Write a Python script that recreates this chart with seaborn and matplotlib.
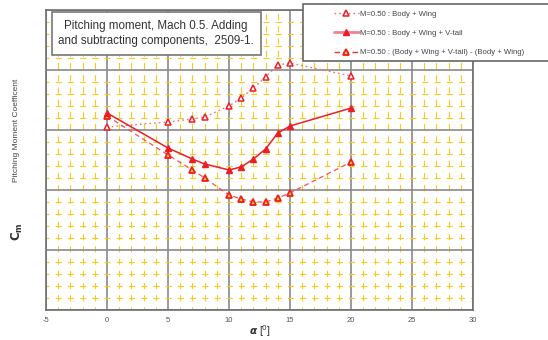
import numpy as np
import pandas as pd
import seaborn as sns
import matplotlib
matplotlib.use("Agg")
import matplotlib.pyplot as plt
from matplotlib.lines import Line2D
from matplotlib.patches import Rectangle
from matplotlib.ticker import MultipleLocator

# Angle of attack [deg]
alpha = [0, 5, 7, 8, 10, 11, 12, 13, 14, 15, 20]

# Pitching moment coefficient, M = 0.50
cm_body_wing = [0.0025, 0.0067, 0.0092, 0.0108, 0.0200, 0.0267, 0.0350, 0.0442, 0.0542, 0.0558, 0.0450]
cm_body_wing_vtail = [0.0142, -0.0150, -0.0242, -0.0283, -0.0333, -0.0308, -0.0242, -0.0158, -0.0025, 0.0033, 0.0183]
cm_difference = [0.0117, -0.0208, -0.0333, -0.0400, -0.0542, -0.0575, -0.0600, -0.0600, -0.0567, -0.0525, -0.0267]

labels = [
    "M=0.50 : Body + Wing",
    "M=0.50 : Body + Wing + V-tail",
    "M=0.50 : (Body + Wing + V-tail) - (Body + Wing)",
]
title_text = "Pitching moment, Mach 0.5. Adding\nand subtracting components,  2509-1."
x_ticks = [-5, 0, 5, 10, 15, 20, 25, 30]

sns.set_style("white")
plt.rcParams["font.family"] = ["Liberation Sans", "DejaVu Sans"]
plt.rcParams["lines.scale_dashes"] = False

W, H = 548, 340
fig = plt.figure(figsize=(W / 100, H / 100), dpi=100)
ax = fig.add_axes([46 / W, 1 - 310 / H, (473 - 46) / W, 300 / H])

df = pd.DataFrame({
    "alpha": alpha,
    "bw": cm_body_wing,
    "bwv": cm_body_wing_vtail,
    "diff": cm_difference,
})

red = "#ee1c25"
sns.lineplot(data=df, x="alpha", y="bw", ax=ax, color="#f2707a", linestyle=(0, (1.2, 2.2)),
             linewidth=1.0, marker="^", markersize=5, markerfacecolor="white",
             markeredgecolor=red, markeredgewidth=1.1, zorder=5)
sns.lineplot(data=df, x="alpha", y="bwv", ax=ax, color=red, linestyle="-",
             linewidth=1.1, marker="^", markersize=5, markerfacecolor=red,
             markeredgecolor=red, markeredgewidth=1.0, zorder=6)
sns.lineplot(data=df, x="alpha", y="diff", ax=ax, color="#f2505c", linestyle=(0, (3.5, 2.5)),
             linewidth=0.9, marker="^", markersize=5, markerfacecolor="#ffd21a",
             markeredgecolor=red, markeredgewidth=1.3, zorder=5)

ax.set_xlim(-5, 30)
ax.set_ylim(-0.15, 0.10)
ax.xaxis.set_major_locator(MultipleLocator(5))
ax.xaxis.set_minor_locator(MultipleLocator(1))
ax.yaxis.set_major_locator(MultipleLocator(0.05))
ax.yaxis.set_minor_locator(MultipleLocator(0.01))
ax.set_xticks(x_ticks)
ax.set_xticklabels([str(t) for t in x_ticks])
ax.set_yticklabels([])

# grid: grey solid majors, yellow dashed minors
ax.grid(which="major", color="#8a8a8a", linewidth=1.2, linestyle="-", zorder=1)
ax.grid(which="minor", color="#f8ca1c", linewidth=0.8, linestyle=(2.2, (4.4, 4.4)), zorder=0)
ax.set_axisbelow(True)

ax.tick_params(axis="x", which="both", length=0, labelsize=5.5, labelcolor="#555555", pad=5)
ax.tick_params(axis="y", which="major", length=3, color="#666666", width=1, direction="out")
ax.tick_params(axis="y", which="minor", length=0)
for s in ax.spines.values():
    s.set_color("#6e6e6e")
    s.set_linewidth(1.2)

ax.set_xlabel("")
ax.set_ylabel("")
fig.text(260 / W, 1 - 331 / H, r"$\boldsymbol{\alpha}$ [$^{0}$]", ha="center", va="center",
         fontsize=7.5, color="#333333")

# y axis label
fig.text(17 / W, 1 - 130 / H, "Pitching Moment Coefficent", rotation=90, ha="center", va="center",
         fontsize=6, color="#444444")
fig.text(17 / W, 1 - 232 / H, r"$\mathbf{C}_{\mathbf{m}}$", rotation=90, ha="center", va="center",
         fontsize=8.5, color="#333333")

# title box
fig.patches.append(Rectangle((52 / W, 1 - 55 / H), (261 - 52) / W, (55 - 12) / H,
                             transform=fig.transFigure, facecolor="white",
                             edgecolor="#777777", linewidth=1.2, zorder=2))
fig.text(156 / W, 1 - 33.5 / H, title_text, ha="center", va="center", fontsize=8.4,
         color="#333333", linespacing=1.3, zorder=3)

# legend box
fig.patches.append(Rectangle((303 / W, 1 - 61 / H), 260 / W, 57 / H,
                             transform=fig.transFigure, facecolor="white",
                             edgecolor="#666666", linewidth=1.2, zorder=2))
handles = [
    Line2D([], [], color="#f2707a", linestyle=(0, (1.2, 2.2)), linewidth=1.0, marker="^",
           markersize=5, markerfacecolor="white", markeredgecolor=red, markeredgewidth=1.1),
    Line2D([], [], color="#f4828a", linestyle="-", linewidth=2.0, marker="^",
           markersize=5, markerfacecolor=red, markeredgecolor=red),
    Line2D([], [], color="#e8303a", linestyle=(0, (4, 2.5)), linewidth=1.0, marker="^",
           markersize=5, markerfacecolor="#ffd21a", markeredgecolor=red, markeredgewidth=1.3),
]
leg = fig.legend(handles, labels, loc="upper left", bbox_to_anchor=(327 / W, 1 - 4 / H),
                 frameon=False, fontsize=5.6, labelcolor="#444444", handlelength=3.2,
                 handletextpad=0.2, labelspacing=1.5, borderpad=0.35)
leg.set_zorder(4)

fig.savefig("out.png", dpi=100)
